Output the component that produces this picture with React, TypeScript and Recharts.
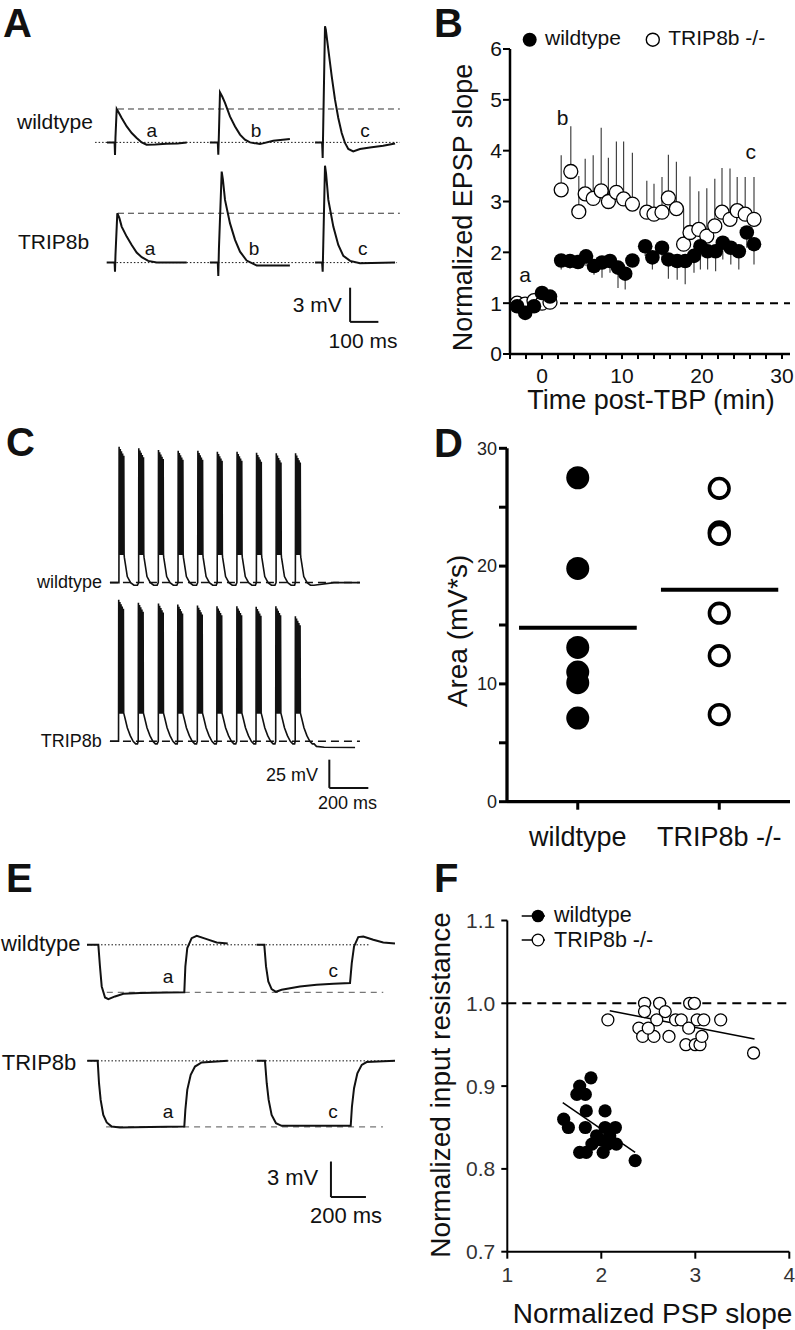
import React from "react";
import { LineChart, Line, XAxis, YAxis, ReferenceLine, ScatterChart, Scatter, ErrorBar } from "recharts";

const FONT = "'Liberation Sans', Arial, Helvetica, sans-serif";
const INK = "#111";

// ---- A: EPSP sweeps (ms, mV) ----
const A_WT_A = [[60, 0], [87, 0], [88.4, -1.1], [90, 0.4], [94.4, 2.93], [102, 2.6], [112, 2.14], [129.8, 1.4], [147.5, 0.82], [165, 0.39], [183, 0], [200, -0.2], [230, -0.18], [270, -0.12], [310, -0.1], [342, 0]];
const A_WT_B = [[424, 0], [452, 0], [453.8, -1.08], [456, 0.8], [459.8, 4.39], [468, 4.0], [477.5, 3.46], [495, 2.28], [513, 1.4], [530.6, 0.68], [548, 0.24], [566, 0], [601, -0.15], [648, 0.15], [707, 0.3]];
const A_WT_C = [[796, 0], [821, 0], [823, -1.37], [825, 1.5], [831.2, 10.18], [834, 9.9], [843, 8.13], [855, 5.79], [866.6, 3.75], [878.2, 2.14], [890.3, 0.82], [902, -0.05], [913.6, -0.58], [931, -0.79], [955, -0.58], [990, -0.44], [1037, -0.3], [1079, -0.1]];
const A_TR_A = [[59, 0], [87, 0], [88.4, -0.79], [90, 0.6], [96.6, 4.33], [104, 3.9], [112, 3.16], [129.8, 2.28], [147.5, 1.55], [165, 0.88], [183, 0.47], [206, 0.15], [236, 0], [342, 0]];
const A_TR_B = [[424, 0], [452, 0], [453.8, -1.17], [456, 1.2], [465.8, 7.98], [470, 7.3], [477.5, 5.5], [495, 3.46], [513, 1.99], [530.6, 0.96], [554, 0.18], [590, -0.26], [707, -0.26]];
const A_TR_C = [[796, 0], [821, 0], [823, -0.79], [825, 1.5], [831.2, 8.5], [835, 7.8], [843, 5.5], [860.6, 3.16], [878.2, 1.55], [896, 0.59], [920, 0.15], [955, -0.05], [1079, 0]];
const A_WT_PEAK = 2.93;
const A_TR_PEAK = 4.33;

// ---- C: theta-burst trains ----
const C_WT_ONSETS = [97, 198, 299, 400, 501, 601, 702, 802, 903, 1002];
const C_WT_PEAKS = [120, 118.6, 117.1, 116.5, 116.5, 115.6, 115.6, 114.7, 114.1, 114.1];
const C_TR_ONSETS = [95, 196, 299, 398, 499, 599, 701, 800, 901, 1001];
const C_TR_PEAKS = [125, 122.3, 121.7, 120.7, 119.8, 119.2, 119.2, 118.7, 119.2, 110.4];
const C_SPIKE_T = [1, 7, 13, 19, 25];
const C_SPIKE_DROP = [0, -2, -4, -6, -8];
const C_TROUGH = 25;
const C_WT_TAIL = [[28, 22], [32, 17.6], [43, 5.3], [60, 0], [77, -2.3], [95, -2.3]];
const C_TR_TAIL = [[28, 24], [33, 20.6], [45, 12], [60, 5], [75, 0], [88, -2.3], [97, -2.3]];
const C_WT_END = [[1200, 0], [1333, 0]];
const C_TR_END = [[1110, -4.5], [1150, -5.3], [1308, -5.5]];

// ---- E: hyperpolarizing steps ----
const E_WT_A = [[40, 0], [104.6, 0], [114, -1.82], [124, -3.5], [143, -4.43], [162, -4.57], [200, -4.34], [248, -4.12], [343, -4.06], [495, -4.0], [596, -3.98], [602, -1.82], [613, -0.28], [638, 0.56], [667, 0.76], [724, 0.48], [781, 0.2], [844, 0.1]];
const E_WT_C = [[1010, 0], [1053, 0], [1063, -1.82], [1076, -3.08], [1095, -3.73], [1120, -3.95], [1152, -3.78], [1257, -3.5], [1352, -3.36], [1448, -3.28], [1543, -3.22], [1553, -1.54], [1566, -0.14], [1590, 0.65], [1619, 0.7], [1676, 0.42], [1733, 0.2], [1800, 0.1]];
const E_TR_A = [[42, 0], [101, 0], [108.6, -1.88], [118, -3.28], [133, -4.54], [152.6, -5.18], [181, -5.52], [228.6, -5.6], [400, -5.55], [596, -5.52], [602, -4.12], [613, -2.44], [632.6, -1.18], [657, -0.48], [695, -0.14], [844, 0]];
const E_TR_C = [[1010, 0], [1057, 0], [1067, -1.88], [1078, -3.28], [1095, -4.54], [1120, -5.24], [1152, -5.46], [1352, -5.46], [1547, -5.46], [1554, -3.84], [1566, -2.3], [1585, -1.04], [1610, -0.34], [1638, -0.1], [1800, 0]];
const E_WT_STEADY = -4.0;
const E_TR_STEADY = -5.55;

// ---- B: normalized EPSP slope ----
const B_TIME_BASE = [-3.1, -2.1, -1.0, 0, 1.0];
const B_WT_BASE = [0.94, 0.81, 0.94, 1.2, 1.13];
const B_TR_BASE = [1.0, 0.98, 1.05, 1.0, 1.02];
const B_TIME_WT = [2.4, 3.5, 4.5, 5.5, 6.5, 7.5, 8.5, 9.5, 10.4, 11.3, 12.9, 13.8, 15.0, 15.8, 16.9, 17.9, 19.0, 19.8, 20.7, 21.7, 22.6, 23.6, 24.6, 25.6, 26.5];
const B_WT = [1.84, 1.83, 1.81, 1.92, 1.73, 1.8, 1.83, 1.7, 1.58, 1.84, 2.12, 1.9, 2.09, 1.86, 1.83, 1.83, 1.93, 2.12, 2.02, 2.02, 2.19, 2.09, 2.02, 2.39, 2.16];
const B_WT_SEM = [0.18, 0.15, 0.13, 0.19, 0.17, 0.3, 0.23, 0.4, 0.31, 0.09, 0.19, 0.24, 0.23, 0.38, 0.37, 0.46, 0.33, 0.46, 0.36, 0.39, 0.33, 0.33, 0.36, 0.3, 0.4];
const B_TIME_TR = [2.4, 3.6, 4.6, 5.4, 6.4, 7.4, 8.3, 9.3, 10.2, 11.3, 13.1, 14.0, 15.0, 15.8, 16.8, 17.7, 18.5, 19.6, 20.6, 21.6, 22.5, 23.5, 24.4, 25.4, 26.5];
const B_TR = [3.23, 3.59, 2.8, 3.15, 3.06, 3.21, 3.0, 3.18, 3.05, 2.95, 2.79, 2.75, 2.79, 3.07, 2.86, 2.16, 2.39, 2.45, 2.32, 2.52, 2.79, 2.65, 2.82, 2.75, 2.65];
const B_TR_SEM = [0.68, 0.89, 0.7, 0.69, 0.85, 1.24, 0.86, 1.0, 1.13, 1.01, 0.62, 0.6, 0.69, 0.85, 0.92, 0.7, 1.1, 0.75, 0.94, 0.93, 0.87, 1.0, 0.66, 0.73, 0.83];
const B_X_TICKS = [-4, -2, 0, 2, 4, 6, 8, 10, 12, 14, 16, 18, 20, 22, 24, 26, 28, 30];
const B_Y_TICKS = [0, 1, 2, 3, 4, 5, 6];

// ---- D: burst area ----
const D_GROUPS = ["wildtype", "TRIP8b -/-"];
const D_WT = [27.5, 19.8, 13.1, 11.0, 10.1, 7.1];
const D_TR = [26.6, 22.9, 22.7, 16.0, 12.4, 7.4];
const D_Y_TICKS = [0, 5, 10, 15, 20, 25, 30];

// ---- F: input resistance vs PSP slope ----
const F_WT_X = [1.6, 1.65, 1.77, 1.74, 1.83, 1.89, 1.84, 1.83, 1.77, 1.84, 1.9, 1.95, 2.02, 2.04, 2.04, 1.99, 2.09, 2.15, 2.16, 2.07, 2.36];
const F_WT_Y = [0.86, 0.85, 0.9, 0.89, 0.89, 0.91, 0.87, 0.85, 0.82, 0.82, 0.83, 0.84, 0.82, 0.87, 0.85, 0.835, 0.84, 0.85, 0.83, 0.83, 0.81];
const F_TR_X = [2.07, 2.4, 2.46, 2.46, 2.44, 2.56, 2.59, 2.62, 2.68, 2.72, 2.79, 2.85, 2.93, 2.9, 2.94, 2.99, 3.02, 3.0, 3.05, 3.07, 3.09, 3.27, 3.62, 2.5];
const F_TR_Y = [0.98, 0.97, 1.0, 0.99, 0.96, 0.96, 0.98, 1.0, 0.99, 0.96, 0.98, 0.98, 0.97, 0.95, 1.0, 1.0, 0.98, 0.95, 0.95, 0.96, 0.98, 0.98, 0.94, 0.97];
const F_WT_FIT = [[1.59, 0.88], [2.36, 0.82]];
const F_TR_FIT = [[2.09, 0.991], [3.63, 0.957]];

const pts = (a: number[][]) => a.map(([t, v]) => ({ t, v }));

function buildTrain(onsets: number[], peaks: number[], tail: number[][], start: number, end: number[][]) {
  const out: number[][] = [[start, 0]];
  onsets.forEach((on, i) => {
    out.push([on, 0]);
    C_SPIKE_T.forEach((st, k) => {
      if (k > 0) out.push([on + st - 1, C_TROUGH]);
      out.push([on + st, peaks[i] + C_SPIKE_DROP[k]]);
      out.push([on + st + 1.5, C_TROUGH]);
    });
    tail.forEach(([dt, v]) => out.push([on + dt, v]));
  });
  end.forEach((p) => out.push(p));
  return pts(out);
}

type Seg = { seg: number[][]; dash?: string; w?: number; color?: string };

function TraceChart(props: {
  left: number; top: number; width: number; height: number;
  x: [number, number]; y: [number, number];
  sweeps: { t: number; v: number }[][]; lines: Seg[]; sw?: number;
}) {
  const { left, top, width, height, x, y, sweeps, lines, sw = 2 } = props;
  return (
    <div style={{ position: "absolute", left, top }}>
      <LineChart width={width} height={height} margin={{ top: 0, right: 0, bottom: 0, left: 0 }}>
        <XAxis type="number" dataKey="t" domain={x} hide allowDataOverflow />
        <YAxis type="number" domain={y} hide allowDataOverflow />
        {lines.map((l, i) => (
          <ReferenceLine
            key={i}
            segment={[{ x: l.seg[0][0], y: l.seg[0][1] }, { x: l.seg[1][0], y: l.seg[1][1] }]}
            stroke={l.color || INK}
            strokeWidth={l.w || 1}
            strokeDasharray={l.dash}
          />
        ))}
        {sweeps.map((s, i) => (
          <Line key={i} data={s} dataKey="v" type="linear" stroke={INK} strokeWidth={sw} dot={false} isAnimationActive={false} />
        ))}
      </LineChart>
    </div>
  );
}

const circle = (r: number, fill: string, stroke: string, sw: number) => (p: any) =>
  <circle cx={p.cx} cy={p.cy} r={r} fill={fill} stroke={stroke} strokeWidth={sw} />;

function PanelB() {
  const wt = [
    ...B_TIME_BASE.map((x, i) => ({ x, y: B_WT_BASE[i], e: [0.04, 0] })),
    ...B_TIME_WT.map((x, i) => ({ x, y: B_WT[i], e: [B_WT_SEM[i], 0] })),
  ];
  const tr = [
    ...B_TIME_BASE.map((x, i) => ({ x, y: B_TR_BASE[i], e: [0, 0.04] })),
    ...B_TIME_TR.map((x, i) => ({ x, y: B_TR[i], e: [0, B_TR_SEM[i]] })),
  ];
  return (
    <div style={{ position: "absolute", left: 400, top: 0 }}>
      <ScatterChart width={395} height={400} margin={{ top: 49, right: 5, bottom: 0, left: 0 }}>
        <XAxis type="number" dataKey="x" domain={[-4, 31]} ticks={B_X_TICKS} interval={0} allowDataOverflow
          tickFormatter={(v) => (v % 10 === 0 && v >= 0 ? String(v) : "")}
          height={46} tickSize={5} tickMargin={9}
          axisLine={{ stroke: "#000", strokeWidth: 2.5 }} tickLine={{ stroke: "#000", strokeWidth: 2 }}
          tick={{ fill: INK, fontSize: 21, fontFamily: FONT }} />
        <YAxis type="number" dataKey="y" domain={[0, 6]} ticks={B_Y_TICKS} interval={0} allowDataOverflow
          width={110} tickSize={7} tickMargin={1}
          axisLine={{ stroke: "#000", strokeWidth: 2.5 }} tickLine={{ stroke: "#000", strokeWidth: 2 }}
          tick={{ fill: INK, fontSize: 21, fontFamily: FONT }} />
        <ReferenceLine segment={[{ x: -3, y: 1 }, { x: 31, y: 1 }]} stroke="#000" strokeWidth={2} strokeDasharray="8 6" />
        <Scatter data={tr} isAnimationActive={false} shape={circle(7, "#fff", "#000", 1.3)}>
          <ErrorBar dataKey="e" direction="y" width={0} stroke="#444" strokeWidth={1.2} />
        </Scatter>
        <Scatter data={wt} isAnimationActive={false} shape={circle(7.3, "#000", "#000", 0)}>
          <ErrorBar dataKey="e" direction="y" width={0} stroke="#444" strokeWidth={1.2} />
        </Scatter>
      </ScatterChart>
    </div>
  );
}

function PanelD() {
  const wt = D_WT.map((y) => ({ x: 1, y }));
  const tr = D_TR.map((y) => ({ x: 2, y }));
  const mean = (a: number[]) => a.reduce((s, v) => s + v, 0) / a.length;
  return (
    <div style={{ position: "absolute", left: 400, top: 400 }}>
      <ScatterChart width={395} height={460} margin={{ top: 48.3, right: 5, bottom: 0, left: 0 }}>
        <XAxis type="number" dataKey="x" domain={[0.5, 2.5]} ticks={[1, 2]} interval={0} allowDataOverflow
          tickFormatter={(v) => D_GROUPS[v - 1] || ""}
          height={58.3} tickSize={8} tickMargin={17}
          axisLine={{ stroke: "#000", strokeWidth: 3.3 }} tickLine={{ stroke: "#000", strokeWidth: 3 }}
          tick={{ fill: INK, fontSize: 27, fontFamily: FONT }} />
        <YAxis type="number" dataKey="y" domain={[0, 30]} ticks={D_Y_TICKS} interval={0} allowDataOverflow
          tickFormatter={(v) => (v % 10 === 0 ? String(v) : "")}
          width={107} tickSize={8} tickMargin={2}
          axisLine={{ stroke: "#000", strokeWidth: 3.3 }} tickLine={{ stroke: "#000", strokeWidth: 3 }}
          tick={{ fill: "#222", fontSize: 18, fontFamily: FONT }} />
        <ReferenceLine segment={[{ x: 0.585, y: mean(D_WT) }, { x: 1.417, y: mean(D_WT) }]} stroke="#000" strokeWidth={4} />
        <ReferenceLine segment={[{ x: 1.588, y: mean(D_TR) }, { x: 2.417, y: mean(D_TR) }]} stroke="#000" strokeWidth={4} />
        <Scatter data={wt} isAnimationActive={false} shape={circle(11.5, "#000", "#000", 0)} />
        <Scatter data={tr} isAnimationActive={false} shape={circle(9.8, "#fff", "#000", 3.6)} />
      </ScatterChart>
    </div>
  );
}

function PanelF() {
  const wt = F_WT_X.map((x, i) => ({ x, y: F_WT_Y[i] }));
  const tr = F_TR_X.map((x, i) => ({ x, y: F_TR_Y[i] }));
  return (
    <div style={{ position: "absolute", left: 400, top: 880 }}>
      <ScatterChart width={395} height={450} margin={{ top: 40.5, right: 5.7, bottom: 0, left: 0 }}>
        <XAxis type="number" dataKey="x" domain={[1, 4]} ticks={[1, 2, 3, 4]} interval={0} allowDataOverflow
          height={78.3} tickSize={7} tickMargin={8}
          axisLine={{ stroke: "#000", strokeWidth: 2 }} tickLine={{ stroke: "#000", strokeWidth: 2 }}
          tick={{ fill: "#333", fontSize: 21, fontFamily: FONT }} />
        <YAxis type="number" dataKey="y" domain={[0.7, 1.1]} ticks={[0.7, 0.8, 0.9, 1.0, 1.1]} interval={0} allowDataOverflow
          tickFormatter={(v) => v.toFixed(1)}
          width={107.3} tickSize={6} tickMargin={6}
          axisLine={{ stroke: "#000", strokeWidth: 2 }} tickLine={{ stroke: "#000", strokeWidth: 2 }}
          tick={{ fill: "#333", fontSize: 21, fontFamily: FONT }} />
        <ReferenceLine y={1} stroke="#000" strokeWidth={2} strokeDasharray="9 6" />
        <Scatter data={tr} isAnimationActive={false} shape={circle(6, "#fff", "#000", 1.3)} />
        <Scatter data={wt} isAnimationActive={false} shape={circle(6.6, "#000", "#000", 0)} />
        <ReferenceLine segment={[{ x: F_WT_FIT[0][0], y: F_WT_FIT[0][1] }, { x: F_WT_FIT[1][0], y: F_WT_FIT[1][1] }]} stroke="#000" strokeWidth={1.5} />
        <ReferenceLine segment={[{ x: F_TR_FIT[0][0], y: F_TR_FIT[0][1] }, { x: F_TR_FIT[1][0], y: F_TR_FIT[1][1] }]} stroke="#000" strokeWidth={1.5} />
      </ScatterChart>
    </div>
  );
}

function T(p: { x: number; y: number; s: number; a?: "start" | "middle" | "end"; b?: boolean; rot?: boolean; fill?: string; children: React.ReactNode }) {
  const common = { fontFamily: FONT, fontSize: p.s, fontWeight: p.b ? 700 : 400, fill: p.fill || INK, textAnchor: p.a || "start" } as any;
  if (p.rot) return <text transform={`translate(${p.x},${p.y}) rotate(-90)`} {...common} textAnchor="middle">{p.children}</text>;
  return <text x={p.x} y={p.y} {...common}>{p.children}</text>;
}

export default function App() {
  const dot = "1.5 2";
  const dash = "6 4";
  return (
    <div style={{ position: "absolute", left: 0, top: 0, width: 795, height: 1330, background: "#fff", overflow: "hidden" }}>
      {/* A */}
      <TraceChart left={90} top={17.3} width={311} height={148.2} x={[0, 1100]} y={[-2, 11]}
        sweeps={[pts(A_WT_A), pts(A_WT_B), pts(A_WT_C)]}
        lines={[
          { seg: [[18, 0], [1096, 0]], dash: dot },
          { seg: [[99, A_WT_PEAK], [1096, A_WT_PEAK]], dash: dash, color: "#333" },
        ]} />
      <TraceChart left={90} top={160.1} width={311} height={171} x={[0, 1100]} y={[-6, 9]}
        sweeps={[pts(A_TR_A), pts(A_TR_B), pts(A_TR_C)]}
        lines={[
          { seg: [[81, 0], [1086, 0]], dash: dot },
          { seg: [[99, A_TR_PEAK], [1096, A_TR_PEAK]], dash: dash, color: "#333" },
          { seg: [[920, -2.2], [920, -5.2]], w: 2 },
          { seg: [[920, -5.2], [1020, -5.2]], w: 2 },
        ]} />

      {/* C */}
      <TraceChart left={100} top={441.1} width={273} height={158.6} x={[0, 1400]} y={[-15, 125]} sw={1.6}
        sweeps={[buildTrain(C_WT_ONSETS, C_WT_PEAKS, C_WT_TAIL, 51, C_WT_END)]}
        lines={[{ seg: [[51, 0], [1333, 0]], dash: "8 5", w: 1.5 }]} />
      <TraceChart left={100} top={594.4} width={273} height={198.3} x={[0, 1400]} y={[-45, 130]} sw={1.6}
        sweeps={[buildTrain(C_TR_ONSETS, C_TR_PEAKS, C_TR_TAIL, 51, C_TR_END)]}
        lines={[
          { seg: [[51, 0], [1333, 0]], dash: "8 5", w: 1.5 },
          { seg: [[1176, -16.2], [1176, -41.1]], w: 2 },
          { seg: [[1176, -41.1], [1376, -41.1]], w: 2 },
        ]} />

      {/* E */}
      <TraceChart left={80} top={921.2} width={323.75} height={95.2} x={[0, 1850]} y={[-6, 2]}
        sweeps={[pts(E_WT_A), pts(E_WT_C)]}
        lines={[
          { seg: [[40, 0], [1657, 0]], dash: dot },
          { seg: [[153, E_WT_STEADY], [1733, E_WT_STEADY]], dash: "6 5", color: "#777", w: 1.3 },
        ]} />
      <TraceChart left={80} top={1043.2} width={323.75} height={160.65} x={[0, 1850]} y={[-12, 1.5]}
        sweeps={[pts(E_TR_A), pts(E_TR_C)]}
        lines={[
          { seg: [[40, 0], [1800, 0]], dash: dot },
          { seg: [[149, E_TR_STEADY], [1731, E_TR_STEADY]], dash: "6 5", color: "#777", w: 1.3 },
          { seg: [[1434, -8.46], [1434, -11.45]], w: 2 },
          { seg: [[1434, -11.45], [1634, -11.45]], w: 2 },
        ]} />

      <PanelB />
      <PanelD />
      <PanelF />

      <svg width={795} height={1330} style={{ position: "absolute", left: 0, top: 0, pointerEvents: "none" }}>
        {/* panel letters */}
        <T x={3} y={37} s={40} b>A</T>
        <T x={434} y={37} s={40} b>B</T>
        <T x={6} y={456} s={40} b>C</T>
        <T x={434} y={457} s={40} b>D</T>
        <T x={6} y={892} s={40} b>E</T>
        <T x={434} y={892} s={40} b>F</T>

        {/* A labels */}
        <T x={17} y={129} s={21}>wildtype</T>
        <T x={18} y={249.3} s={21}>TRIP8b</T>
        <T x={151.7} y={136.7} s={19} a="middle">a</T>
        <T x={256} y={136.7} s={19} a="middle">b</T>
        <T x={365} y={136.7} s={19} a="middle">c</T>
        <T x={150} y={255} s={19} a="middle">a</T>
        <T x={254} y={255} s={19} a="middle">b</T>
        <T x={362.7} y={255} s={19} a="middle">c</T>
        <T x={341.7} y={311.7} s={21} a="end">3 mV</T>
        <T x={363} y={348.3} s={21} a="middle">100 ms</T>

        {/* B labels */}
        <circle cx={529.7} cy={39.7} r={7} fill="#000" />
        <T x={545} y={44.5} s={21}>wildtype</T>
        <circle cx={652.8} cy={39.7} r={6.5} fill="#fff" stroke="#000" strokeWidth={1.4} />
        <T x={668.3} y={44.5} s={21}>TRIP8b -/-</T>
        <T x={525} y={281.7} s={21} a="middle">a</T>
        <T x={562.7} y={125} s={21} a="middle">b</T>
        <T x={750.7} y={159.3} s={21} a="middle">c</T>
        <T x={471.7} y={207.5} s={27} rot>Normalized EPSP slope</T>
        <T x={651} y={409} s={27} a="middle">Time post-TBP (min)</T>

        {/* C labels */}
        <T x={102} y={588} s={18} a="end">wildtype</T>
        <T x={101.7} y={746.7} s={18} a="end">TRIP8b</T>
        <T x={318} y={780.7} s={18} a="end">25 mV</T>
        <T x={347.5} y={809.3} s={18} a="middle">200 ms</T>

        {/* D labels */}
        <T x={467} y={631} s={28} rot>Area (mV*s)</T>

        {/* E labels */}
        <T x={1} y={950.7} s={22}>wildtype</T>
        <T x={1.7} y={1070} s={22}>TRIP8b</T>
        <T x={168} y={982.7} s={19} a="middle">a</T>
        <T x={333.3} y={977.3} s={19} a="middle">c</T>
        <T x={168} y={1118.3} s={19} a="middle">a</T>
        <T x={333} y={1118.3} s={19} a="middle">c</T>
        <T x={318.3} y={1185} s={22} a="end">3 mV</T>
        <T x={346} y={1222.7} s={22} a="middle">200 ms</T>

        {/* F labels */}
        <line x1={521.7} y1={916} x2={545} y2={916} stroke="#000" strokeWidth={1.5} />
        <circle cx={538} cy={916} r={6.3} fill="#000" />
        <T x={554} y={922} s={21.5}>wildtype</T>
        <line x1={521.7} y1={940} x2={545} y2={940} stroke="#000" strokeWidth={1.5} />
        <circle cx={538} cy={940} r={5.8} fill="#fff" stroke="#000" strokeWidth={1.3} />
        <T x={554} y={947} s={21.5}>TRIP8b -/-</T>
        <T x={450} y={1085} s={28} rot>Normalized input resistance</T>
        <T x={652.5} y={1323} s={28} a="middle">Normalized PSP slope</T>
      </svg>
    </div>
  );
}
